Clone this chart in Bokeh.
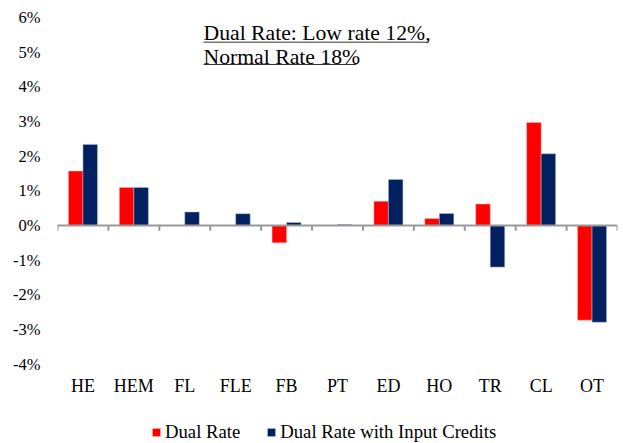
from bokeh.plotting import figure
from bokeh.models import (Range1d, LinearAxis, FixedTicker, Legend, LegendItem,
                          Label, ColumnDataSource, Span)
from bokeh.core.properties import value
from bokeh.embed import file_html
from bokeh.resources import INLINE

# ---- data ----
categories = ["HE", "HEM", "FL", "FLE", "FB", "PT", "ED", "HO", "TR", "CL", "OT"]
dual_rate = [1.57, 1.10, 0.0, 0.0, -0.50, 0.0, 0.70, 0.20, 0.62, 2.97, -2.73]
dual_rate_credits = [2.34, 1.10, 0.39, 0.34, 0.09, 0.03, 1.33, 0.35, -1.20, 2.07, -2.79]
y_ticks = [-4, -3, -2, -1, 0, 1, 2, 3, 4, 5, 6]
series_names = ["Dual Rate", "Dual Rate with Input Credits"]
title_lines = ["Dual Rate: Low rate 12%,", "Normal Rate 18%"]

RED = "#FF0000"
NAVY = "#002060"
FONT = "Liberation Serif"
AXIS_GRAY = "#999999"

W, H = 623, 443
PX_PER_UNIT = 34.67           # vertical scale (pixels per 1%)
TOP_Y = 17                    # pixel row of the 6% tick
y_top = y_ticks[-1] + TOP_Y / PX_PER_UNIT
y_bot = y_ticks[-1] - (H - TOP_Y) / PX_PER_UNIT

idx = list(range(len(categories)))
bw = 0.285
src = ColumnDataSource(dict(xa=[i - bw / 2 for i in idx], xb=[i + bw / 2 for i in idx],
                            a=dual_rate, b=dual_rate_credits))
lab_src = ColumnDataSource(dict(x=idx, y=[-4.643] * len(idx), t=categories))

p = figure(width=W, height=H, x_range=Range1d(-0.5, len(categories) - 0.5),
           y_range=Range1d(y_bot, y_top), output_backend="svg", toolbar_location=None,
           x_axis_type=None, y_axis_type=None,
           min_border_left=57, min_border_right=6, min_border_top=0,
           min_border_bottom=0, outline_line_color=None,
           background_fill_color="white", border_fill_color="white")

r1 = p.vbar(x="xa", top="a", width=bw, source=src, fill_color=RED,
            line_color="#FFB0B0", line_width=0.5)
r2 = p.vbar(x="xb", top="b", width=bw, source=src, fill_color=NAVY,
            line_color="#B8C4DC", line_width=0.5)

# zero line with ticks at category boundaries
bounds = [i - 0.5 for i in range(len(categories) + 1)]
p.segment(x0=bounds, y0=[0] * len(bounds), x1=bounds, y1=[-0.15] * len(bounds),
          line_color=AXIS_GRAY, line_width=2)
p.add_layout(Span(location=0, dimension="width", line_color=AXIS_GRAY, line_width=2))

# y axis (labels only)
yaxis = LinearAxis(ticker=FixedTicker(ticks=y_ticks),
                   major_label_overrides={t: f"{t}%" for t in y_ticks},
                   axis_line_color=None, major_tick_line_color=None,
                   minor_tick_line_color=None, major_tick_in=0, major_tick_out=0,
                   major_label_standoff=17, major_label_text_font=FONT,
                   major_label_text_font_size="16.5px", major_label_text_color="black")
p.add_layout(yaxis, "left")

# category labels under the plot
p.text(x="x", y="y", text="t", source=lab_src, text_font=value(FONT),
       text_font_size="18px", text_color="black", text_align="center",
       text_baseline="middle")

# title text with underline
p.add_layout(Label(x=2.368, y=5.56, text=title_lines[0], text_font=FONT,
                   text_font_size="21.7px", text_color="black",
                   text_baseline="middle"))
p.add_layout(Label(x=2.368, y=4.875, text=title_lines[1], text_font=FONT,
                   text_font_size="21.7px", text_color="black",
                   text_baseline="middle"))
p.segment(x0=[2.368, 2.368], y0=[5.288, 4.644], x1=[2.368 + 4.42, 2.368 + 3.006],
          y1=[5.288, 4.644], line_color="#333333", line_width=1)

legend = Legend(items=[LegendItem(label=series_names[0], renderers=[r1]),
                       LegendItem(label=series_names[1], renderers=[r2])],
                orientation="horizontal", location=(94, 0),
                label_text_font=FONT, label_text_font_size="18.7px",
                label_text_color="black", glyph_width=10, glyph_height=10,
                label_standoff=4, spacing=26, padding=1, margin=0,
                label_height=18, border_line_color=None,
                background_fill_alpha=0)
p.add_layout(legend)

open("out.html", "w").write(file_html(p, INLINE))
